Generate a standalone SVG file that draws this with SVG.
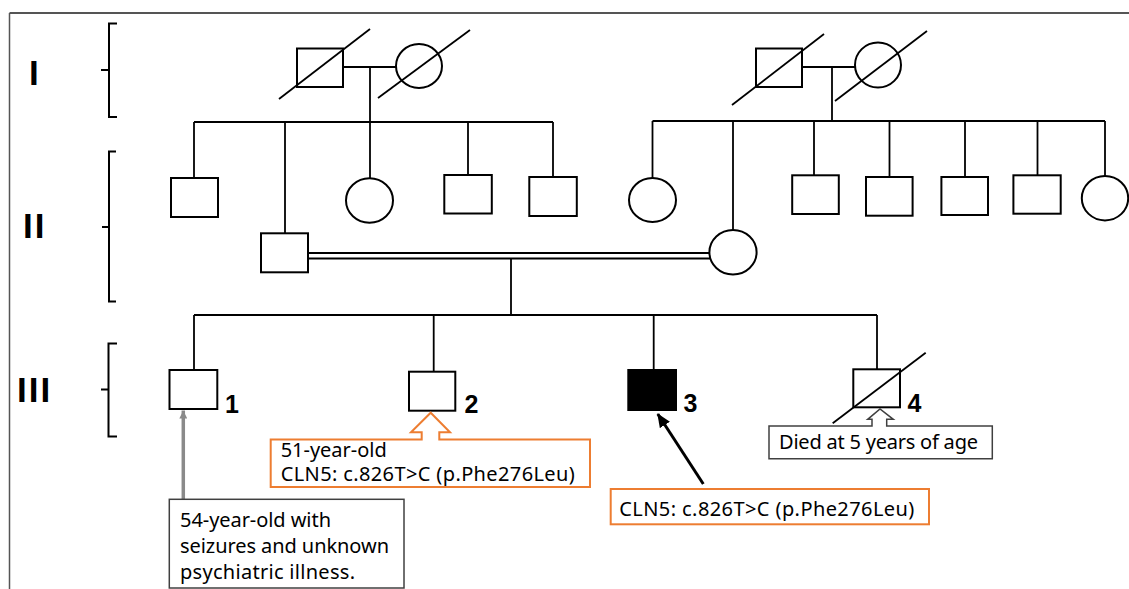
<svg xmlns="http://www.w3.org/2000/svg" width="1129" height="589" viewBox="0 0 1129 589">
<style>
  .sym { fill: #fff; stroke: #000; stroke-width: 2; }
  .aff { fill: #000; stroke: #000; stroke-width: 2; }
  .ln { fill: none; stroke: #000; stroke-width: 1.8; }
  .slash { fill: none; stroke: #000; stroke-width: 1.8; }
  .br { fill: none; stroke: #000; stroke-width: 2; }
  .gen { font-family: "Liberation Sans", Arial, sans-serif; font-weight: bold; font-size: 35px; fill: #000; letter-spacing: 2px; }
  .num { font-family: "Liberation Sans", Arial, sans-serif; font-weight: bold; font-size: 25px; fill: #000; }
  .note { font-family: "Noto Sans", "Liberation Sans", sans-serif; font-size: 20px; fill: #000; }
  .obox { fill: #fff; stroke: #ED7D31; stroke-width: 2; }
  .gbox { fill: #fff; stroke: #404040; stroke-width: 1.5; }
</style>
<defs>
  <marker id="headBlack" markerUnits="userSpaceOnUse" markerWidth="14" markerHeight="12" refX="13" refY="6" orient="auto">
    <path d="M0,0 L14,6 L0,12 z" fill="#000"/>
  </marker>
  <marker id="headGray" markerUnits="userSpaceOnUse" markerWidth="8" markerHeight="8" refX="8" refY="4" orient="auto">
    <path d="M0,0 L8,4 L0,8 z" fill="#8a8a8a"/>
  </marker>
</defs>
<rect x="0" y="0" width="1129" height="589" fill="#fff"/>
<!-- frame -->
<g id="frame">
  <line x1="9.5" y1="13" x2="1129" y2="13" stroke="#555" stroke-width="2"/>
  <line x1="9.5" y1="13" x2="9.5" y2="589" stroke="#555" stroke-width="1.5"/>
</g>
<!-- generation labels and brackets -->
<g id="gen-labels">
  <text class="gen" x="29" y="85">I</text>
  <text class="gen" x="23" y="238">II</text>
  <text class="gen" x="17" y="401.7">III</text>
  <path class="br" d="M117,23.5 H109 V117 H117 M101,70 H109"/>
  <path class="br" d="M116,151.5 H109 V301.5 H116 M102,227 H109"/>
  <path class="br" d="M117,343.5 H108.5 V436.5 H117 M101,389.5 H108.5"/>
</g>
<!-- connectors -->
<g id="connectors">
  <!-- gen I left couple -->
  <line class="ln" x1="343" y1="67" x2="396" y2="67"/>
  <line class="ln" x1="370" y1="67" x2="370" y2="122"/>
  <line class="ln" x1="194" y1="122" x2="553" y2="122"/>
  <line class="ln" x1="194" y1="122" x2="194" y2="178"/>
  <line class="ln" x1="285" y1="122" x2="285" y2="233"/>
  <line class="ln" x1="370" y1="122" x2="370" y2="178"/>
  <line class="ln" x1="468" y1="122" x2="468" y2="175"/>
  <line class="ln" x1="553" y1="122" x2="553" y2="177"/>
  <!-- gen I right couple -->
  <line class="ln" x1="802" y1="67" x2="855" y2="67"/>
  <line class="ln" x1="832" y1="67" x2="832" y2="121"/>
  <line class="ln" x1="652.5" y1="121" x2="1105" y2="121"/>
  <line class="ln" x1="652.5" y1="121" x2="652.5" y2="178"/>
  <line class="ln" x1="733" y1="121" x2="733" y2="230"/>
  <line class="ln" x1="814" y1="121" x2="814" y2="175"/>
  <line class="ln" x1="889.5" y1="121" x2="889.5" y2="177"/>
  <line class="ln" x1="965" y1="121" x2="965" y2="177"/>
  <line class="ln" x1="1037.5" y1="121" x2="1037.5" y2="175"/>
  <line class="ln" x1="1105" y1="121" x2="1105" y2="176"/>
  <!-- consanguineous marriage -->
  <line class="ln" x1="308" y1="253" x2="710" y2="253" stroke-width="1.6"/>
  <line class="ln" x1="308" y1="258.5" x2="710" y2="258.5" stroke-width="1.6"/>
  <line class="ln" x1="511" y1="258.5" x2="511" y2="315"/>
  <!-- gen III sibship -->
  <line class="ln" x1="194" y1="315" x2="877" y2="315"/>
  <line class="ln" x1="194" y1="315" x2="194" y2="370"/>
  <line class="ln" x1="433.7" y1="315" x2="433.7" y2="371.7"/>
  <line class="ln" x1="653.7" y1="315" x2="653.7" y2="370"/>
  <line class="ln" x1="877" y1="315" x2="877" y2="369"/>
  <!-- annotation arrows -->
  <line x1="183.3" y1="499" x2="183.3" y2="410.5" stroke="#8a8a8a" stroke-width="3.5" marker-end="url(#headGray)"/>
  <line x1="703.3" y1="484" x2="657.8" y2="414" stroke="#000" stroke-width="3" marker-end="url(#headBlack)"/>
</g>
<!-- generation I -->
<g id="I-1">
  <rect class="sym" x="297" y="48.5" width="46" height="38.5"/>
  <line class="slash" x1="279" y1="99" x2="370" y2="29"/>
</g>
<g id="I-2">
  <ellipse class="sym" cx="419" cy="66" rx="23" ry="22"/>
  <line class="slash" x1="378" y1="98" x2="470" y2="30"/>
</g>
<g id="I-3">
  <rect class="sym" x="756" y="48.5" width="46" height="38.5"/>
  <line class="slash" x1="732" y1="105" x2="824" y2="34"/>
</g>
<g id="I-4">
  <ellipse class="sym" cx="878" cy="65" rx="23" ry="22.5"/>
  <line class="slash" x1="835" y1="101" x2="927" y2="31"/>
</g>
<!-- generation II -->
<g id="II-1"><rect class="sym" x="171" y="178" width="47" height="39"/></g>
<g id="II-2"><rect class="sym" x="261" y="233.3" width="47" height="39"/></g>
<g id="II-3"><ellipse class="sym" cx="369.5" cy="200.5" rx="23.5" ry="22.2"/></g>
<g id="II-4"><rect class="sym" x="444.3" y="175" width="47.5" height="38.5"/></g>
<g id="II-5"><rect class="sym" x="529.3" y="177" width="47.5" height="39"/></g>
<g id="II-6"><ellipse class="sym" cx="652.5" cy="200" rx="23.5" ry="22"/></g>
<g id="II-7"><ellipse class="sym" cx="733" cy="252.2" rx="23.6" ry="22.2"/></g>
<g id="II-8"><rect class="sym" x="792.2" y="175.3" width="46.6" height="38.7"/></g>
<g id="II-9"><rect class="sym" x="866" y="177" width="46.6" height="38.7"/></g>
<g id="II-10"><rect class="sym" x="941.4" y="177" width="46.6" height="38"/></g>
<g id="II-11"><rect class="sym" x="1013.4" y="175.3" width="47.3" height="38.4"/></g>
<g id="II-12"><ellipse class="sym" cx="1105" cy="198.2" rx="23.2" ry="22.2"/></g>
<!-- generation III -->
<g id="III-1">
  <rect class="sym" x="169.5" y="370" width="47.8" height="39"/>
  <text class="num" x="225" y="413">1</text>
</g>
<g id="III-2">
  <rect class="sym" x="409" y="371.7" width="46.3" height="39"/>
  <text class="num" x="464.5" y="412.7">2</text>
</g>
<g id="III-3">
  <rect class="aff" x="628.3" y="370" width="47.7" height="40"/>
  <text class="num" x="683.5" y="412.3">3</text>
</g>
<g id="III-4">
  <rect class="sym" x="853.3" y="369.3" width="46.7" height="38"/>
  <line class="slash" x1="832.7" y1="423.3" x2="925.7" y2="352.7"/>
  <text class="num" x="907.5" y="411.7">4</text>
</g>
<!-- annotations -->
<g id="note-III-1">
  <rect class="gbox" x="169.3" y="499.3" width="234.7" height="88.7"/>
  <text class="note" x="180" y="527.3" textLength="151" lengthAdjust="spacing">54-year-old with</text>
  <text class="note" x="180" y="553" textLength="209" lengthAdjust="spacing">seizures and unknown</text>
  <text class="note" x="180" y="578.5" textLength="175" lengthAdjust="spacing">psychiatric illness.</text>
</g>
<g id="note-III-2">
  <path class="obox" d="M270.7,439.5 H421.7 V432.3 H411 L430.7,412.7 L450,432.3 H439.3 V439.5 H590 V487 H270.7 Z"/>
  <text class="note" x="280.7" y="456.5" textLength="106" lengthAdjust="spacing">51-year-old</text>
  <text class="note" x="280.7" y="481" textLength="294" lengthAdjust="spacing">CLN5: c.826T&gt;C (p.Phe276Leu)</text>
</g>
<g id="note-III-3">
  <rect class="obox" x="610.7" y="489" width="318.3" height="35.3"/>
  <text class="note" x="619.3" y="516" textLength="295" lengthAdjust="spacing">CLN5: c.826T&gt;C (p.Phe276Leu)</text>
</g>
<g id="note-III-4">
  <path class="gbox" d="M769,426 H872 V419.3 H867.7 L880,409 L893.3,419.3 H886.7 V426 H992.3 V458.7 H769 Z"/>
  <text class="note" x="779" y="449.3" textLength="199" lengthAdjust="spacing">Died at 5 years of age</text>
</g>
</svg>
